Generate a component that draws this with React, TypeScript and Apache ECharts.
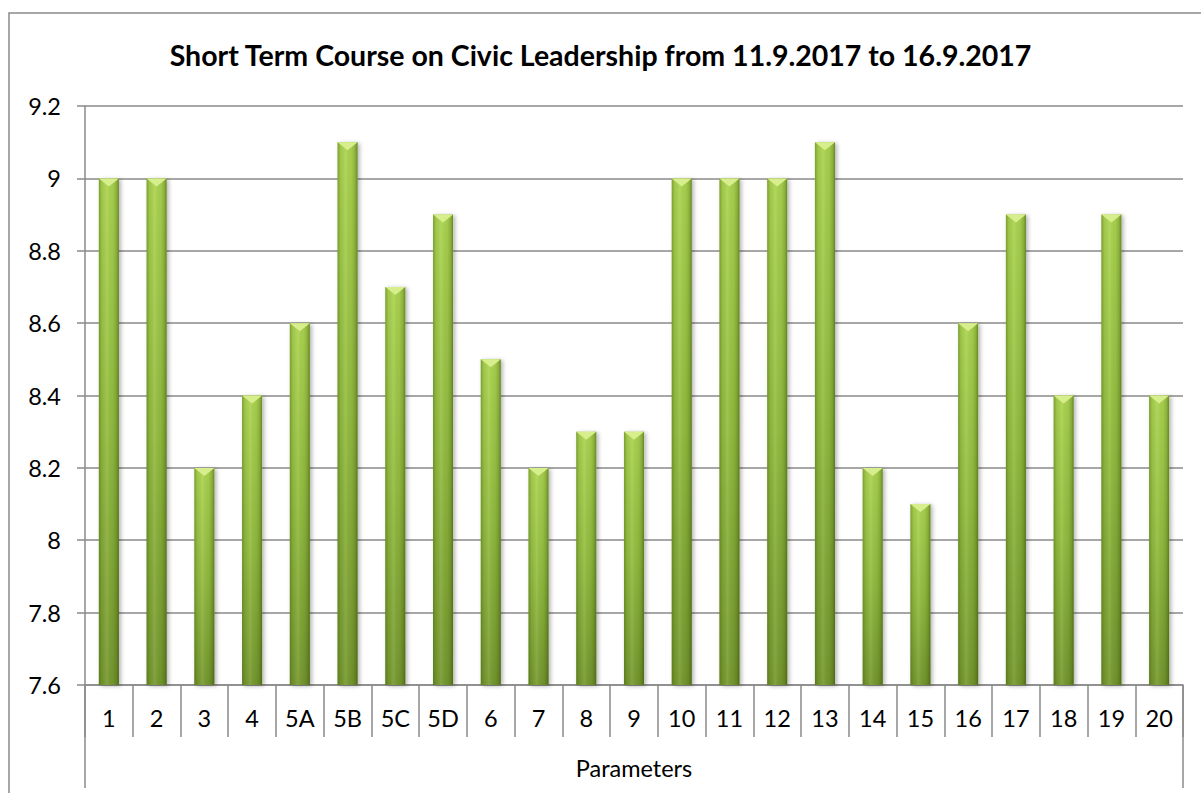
import React, { useEffect, useRef } from "react";
import * as echarts from "echarts";

const TITLE = "Short Term Course on Civic Leadership from 11.9.2017 to 16.9.2017";
const categories = ["1", "2", "3", "4", "5A", "5B", "5C", "5D", "6", "7", "8", "9", "10", "11", "12", "13", "14", "15", "16", "17", "18", "19", "20"];
const scores = [9, 9, 8.2, 8.4, 8.6, 9.1, 8.7, 8.9, 8.5, 8.2, 8.3, 8.3, 9, 9, 9, 9.1, 8.2, 8.1, 8.6, 8.9, 8.4, 8.9, 8.4];
const axisGroup = ["Parameters"];
const Y_MIN = 7.6;
const Y_MAX = 9.2;
const Y_STEP = 0.2;

const FONT = "Lato, 'Open Sans', sans-serif";
const GREY = "#8a8a8a";

export default function App() {
  const ref = useRef<HTMLDivElement>(null);
  useEffect(() => {
    if (!ref.current) return;
    const chart = echarts.init(ref.current, undefined, { renderer: "svg" });
    const data = scores.map((v, i) => [i, v]);
    chart.setOption({
      animation: false,
      backgroundColor: "#ffffff",
      title: {
        text: TITLE,
        left: "center",
        top: 35,
        textStyle: { fontFamily: FONT, fontWeight: "bold", fontSize: 28.5, color: "#000" },
      },
      graphic: [
        {
          type: "rect",
          shape: { x: 9, y: 13, width: 1400, height: 1000 },
          style: { fill: "none", stroke: GREY, lineWidth: 1.5 },
          silent: true,
        },
      ],
      grid: { left: 85, right: 18, top: 106, bottom: 108, containLabel: false },
      xAxis: [
        {
          type: "category",
          data: categories,
          position: "bottom",
          boundaryGap: true,
          axisLine: { show: true, lineStyle: { color: GREY, width: 1.5 } },
          axisTick: { show: true, interval: 0, length: 52, lineStyle: { color: GREY, width: 1.5 } },
          axisLabel: { interval: 0, margin: 21, fontFamily: FONT, fontSize: 23.5, color: "#000" },
        },
        {
          type: "category",
          data: axisGroup,
          position: "bottom",
          boundaryGap: true,
          axisLine: { show: false },
          axisTick: { show: true, length: 103, lineStyle: { color: GREY, width: 1.5 } },
          axisLabel: { margin: 71, fontFamily: FONT, fontSize: 23.5, color: "#000" },
        },
      ],
      yAxis: {
        type: "value",
        min: Y_MIN,
        max: Y_MAX,
        interval: Y_STEP,
        axisLine: { show: true, lineStyle: { color: GREY, width: 1.5 } },
        axisTick: { show: true, length: 8, lineStyle: { color: GREY, width: 1.5 } },
        axisLabel: {
          margin: 24,
          fontFamily: FONT,
          fontSize: 23.5,
          color: "#000",
          formatter: (v: number) => String(Math.round(v * 10) / 10),
        },
        splitLine: { show: true, lineStyle: { color: GREY, width: 1.5 } },
      },
      series: [
        {
          type: "custom",
          xAxisIndex: 0,
          data,
          renderItem: (params: any, api: any) => {
            const idx = api.value(0);
            const v = api.value(1);
            const top = api.coord([idx, v]);
            const base = api.coord([idx, Y_MIN]);
            const bw = api.size([1, 0])[0] * 0.42;
            const x0 = top[0] - bw / 2;
            const h = base[1] - top[1];
            const tri = bw * 0.4;
            return {
              type: "group",
              children: [
                {
                  type: "rect",
                  shape: { x: x0, y: top[1], width: bw, height: h },
                  style: {
                    fill: new echarts.graphic.LinearGradient(0, 0, 0, 1, [
                      { offset: 0, color: "#a9d250" },
                      { offset: 0.5, color: "#90ba3f" },
                      { offset: 1, color: "#72952e" },
                    ]),
                    shadowBlur: 4,
                    shadowOffsetX: 2,
                    shadowOffsetY: 1,
                    shadowColor: "rgba(0,0,0,0.3)",
                  },
                },
                {
                  type: "rect",
                  shape: { x: x0, y: top[1], width: bw, height: h },
                  style: {
                    fill: new echarts.graphic.LinearGradient(0, 0, 1, 0, [
                      { offset: 0, color: "rgba(60,80,10,0.4)" },
                      { offset: 0.15, color: "rgba(60,80,10,0.08)" },
                      { offset: 0.4, color: "rgba(255,255,200,0.12)" },
                      { offset: 0.7, color: "rgba(60,80,10,0.05)" },
                      { offset: 0.88, color: "rgba(40,60,0,0.22)" },
                      { offset: 1, color: "rgba(40,60,0,0.5)" },
                    ]),
                  },
                },
                {
                  type: "polygon",
                  shape: {
                    points: [
                      [x0, top[1]],
                      [x0 + bw, top[1]],
                      [top[0], top[1] + tri],
                    ],
                  },
                  style: { fill: "#d7ee8c" },
                },
              ],
            };
          },
        },
      ],
    });
    return () => chart.dispose();
  }, []);
  return (
    <div
      ref={ref}
      style={{ position: "fixed", left: 0, top: 0, width: 1201, height: 793, background: "#fff" }}
    />
  );
}
